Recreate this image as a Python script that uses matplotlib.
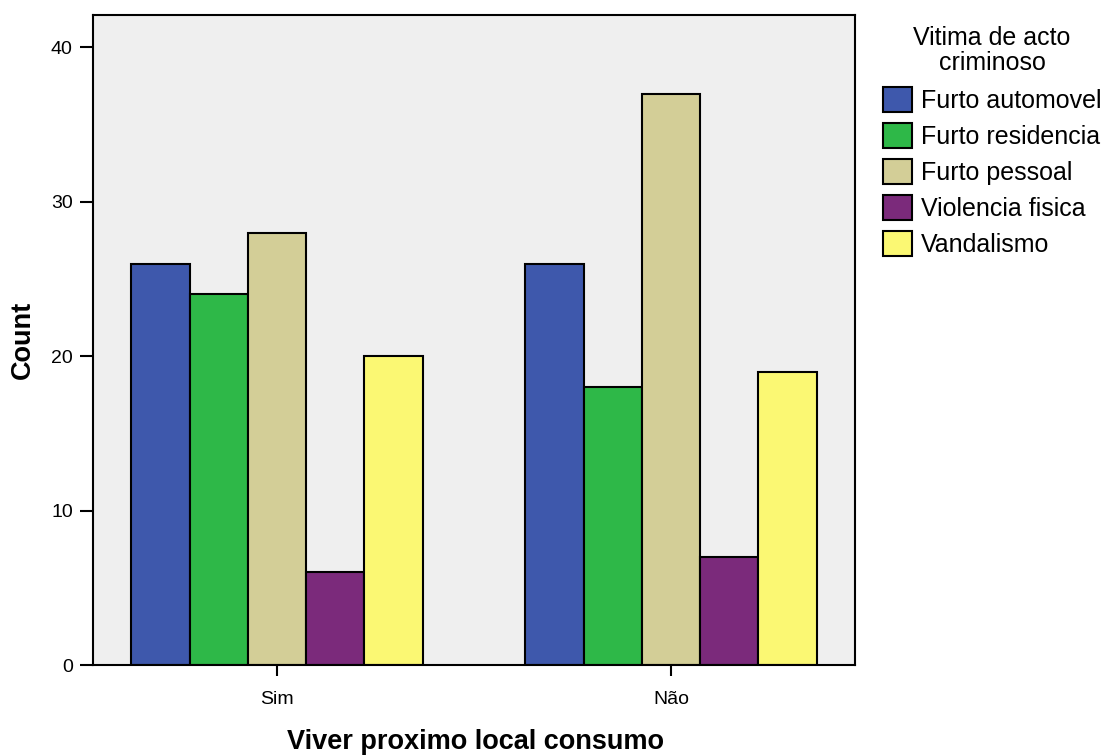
import matplotlib
matplotlib.use("Agg")
import matplotlib.pyplot as plt
import numpy as np

plt.rcParams['font.family'] = ['Liberation Sans', 'DejaVu Sans']

groups = ["Sim", "Não"]
series = ["Furto automovel", "Furto residencia", "Furto pessoal", "Violencia fisica", "Vandalismo"]
values = {
    "Furto automovel": [26, 26],
    "Furto residencia": [24, 18],
    "Furto pessoal": [28, 37],
    "Violencia fisica": [6, 7],
    "Vandalismo": [20, 19],
}
colors = ["#3e58ac", "#2eb848", "#d3ce97", "#7b2a7b", "#fbf873"]
yticks = [0, 10, 20, 30, 40]

fig = plt.figure(figsize=(11.09, 7.55), dpi=100)
ax = fig.add_axes([93/1109, 90/755, (855-93)/1109, (665-15)/755])
ax.set_facecolor("#efefef")

x = np.arange(len(groups))
w = 0.148
for i, s in enumerate(series):
    ax.bar(x + (i - 2) * w, values[s], width=w, color=colors[i],
           edgecolor="black", linewidth=1.5, label=s, zorder=2)

ax.set_xlim(-0.467, 1.467)
ax.set_ylim(0, 42.1)
ax.set_yticks(yticks)
ax.set_xticks(x)
ax.set_xticklabels(groups)
ax.tick_params(axis='y', direction='out', length=9.5, width=1.5, labelsize=14, pad=5)
ax.tick_params(axis='x', direction='out', length=8, width=1.5, labelsize=14, pad=11)
for sp in ax.spines.values():
    sp.set_linewidth(1.5)

fig.text(23/1109, 1 - 340/755, "Count", rotation=90, fontsize=19.5, fontweight='bold',
         ha='center', va='center')
fig.text(475/1109, 1 - 742/755, "Viver proximo local consumo", fontsize=19.5,
         fontweight='bold', ha='center', va='center')

leg = fig.legend(*ax.get_legend_handles_labels(), loc='upper left',
                 bbox_to_anchor=(883/1109, 1 - 26/755), bbox_transform=fig.transFigure,
                 frameon=False, title="Vitima de acto\ncriminoso", fontsize=18,
                 title_fontsize=18, handlelength=1.15, handleheight=1.15,
                 handletextpad=0.36, labelspacing=0.4, borderaxespad=0, borderpad=0)
leg.get_title().set_multialignment('center')
leg.get_title().set_linespacing(1.05)
leg._legend_box.sep = 9

fig.savefig("out.png", dpi=100)
